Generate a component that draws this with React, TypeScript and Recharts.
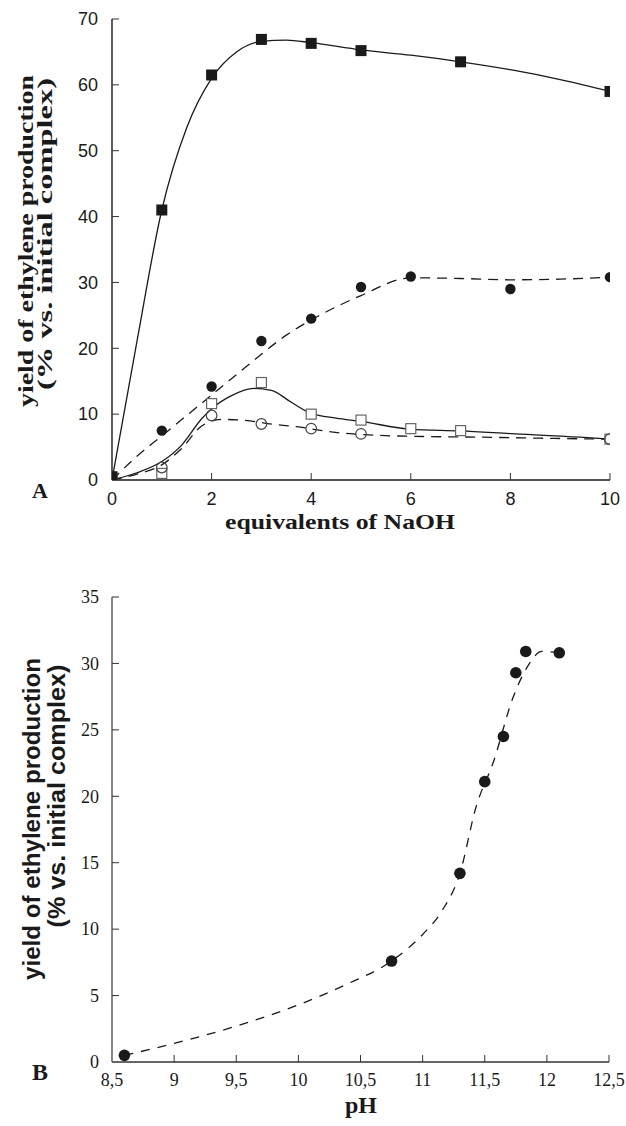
import React from "react"
import { ComposedChart, Line, Scatter, XAxis, YAxis } from "recharts"

// ---- panel A: yield vs equivalents of NaOH ----
const naohTicks = [0, 2, 4, 6, 8, 10]
const yieldTicksA = [0, 10, 20, 30, 40, 50, 60, 70]

const filledSquares = [
  { x: 0, y: 0.5 }, { x: 1, y: 41 }, { x: 2, y: 61.5 }, { x: 3, y: 66.9 },
  { x: 4, y: 66.3 }, { x: 5, y: 65.2 }, { x: 7, y: 63.5 }, { x: 10, y: 59 },
]
const filledCircles = [
  { x: 0, y: 0.3 }, { x: 1, y: 7.5 }, { x: 2, y: 14.2 }, { x: 3, y: 21.1 }, { x: 4, y: 24.5 },
  { x: 5, y: 29.3 }, { x: 6, y: 30.9 }, { x: 8, y: 29 }, { x: 10, y: 30.8 },
]
const openSquares = [
  { x: 0, y: 0 }, { x: 1, y: 1 }, { x: 2, y: 11.6 }, { x: 3, y: 14.8 }, { x: 4, y: 10 },
  { x: 5, y: 9.1 }, { x: 6, y: 7.8 }, { x: 7, y: 7.5 }, { x: 10, y: 6.2 },
]
const openCircles = [
  { x: 0, y: 0 }, { x: 1, y: 1.9 }, { x: 2, y: 9.8 }, { x: 3, y: 8.5 },
  { x: 4, y: 7.8 }, { x: 5, y: 7.0 }, { x: 10, y: 6.2 },
]

// fitted curves
const fitFilledSquares = [
  { x: 0, y: 0 }, { x: 0.5, y: 21 }, { x: 1, y: 41 }, { x: 1.5, y: 53.5 }, { x: 2, y: 61 },
  { x: 2.5, y: 65 }, { x: 3, y: 66.6 }, { x: 3.5, y: 66.8 }, { x: 4, y: 66.4 }, { x: 5, y: 65.3 },
  { x: 6, y: 64.5 }, { x: 7, y: 63.5 }, { x: 8, y: 62.3 }, { x: 9, y: 60.8 }, { x: 10, y: 59 },
]
const fitFilledCircles = [
  { x: 0, y: 0 }, { x: 0.5, y: 3.6 }, { x: 1, y: 6.7 }, { x: 1.5, y: 9.8 }, { x: 2, y: 12.9 },
  { x: 2.5, y: 16 }, { x: 3, y: 19.1 }, { x: 3.5, y: 22 }, { x: 4, y: 24.3 }, { x: 5, y: 28 },
  { x: 6, y: 30.7 }, { x: 7, y: 30.6 }, { x: 8, y: 30.4 }, { x: 9, y: 30.5 }, { x: 10, y: 30.8 },
]
const fitOpenSquares = [
  { x: 0, y: 0 }, { x: 0.5, y: 1.1 }, { x: 1, y: 2.8 }, { x: 1.4, y: 5.3 }, { x: 1.8, y: 9.3 },
  { x: 2, y: 10.8 }, { x: 2.4, y: 12.8 }, { x: 2.85, y: 13.9 }, { x: 3.2, y: 13.6 }, { x: 3.6, y: 11.8 },
  { x: 4, y: 10.1 }, { x: 4.5, y: 9.4 }, { x: 5, y: 8.9 }, { x: 6, y: 7.7 }, { x: 7, y: 7.45 },
  { x: 8, y: 7.05 }, { x: 9.4, y: 6.5 }, { x: 10, y: 6.2 },
]
const fitOpenCircles = [
  { x: 0, y: 0 }, { x: 0.5, y: 0.9 }, { x: 1, y: 2.3 }, { x: 1.4, y: 4.8 }, { x: 1.8, y: 8.2 },
  { x: 2.2, y: 9.2 }, { x: 2.6, y: 9.1 }, { x: 3.3, y: 8.4 }, { x: 3.7, y: 8.1 }, { x: 4.4, y: 7.3 },
  { x: 5.3, y: 6.8 }, { x: 6.3, y: 6.6 }, { x: 7.4, y: 6.5 }, { x: 9, y: 6.3 }, { x: 10, y: 6.2 },
]

// ---- panel B: yield vs pH ----
const phTicks = [8.5, 9, 9.5, 10, 10.5, 11, 11.5, 12, 12.5]
const yieldTicksB = [0, 5, 10, 15, 20, 25, 30, 35]

const phPoints = [
  { x: 8.6, y: 0.5 }, { x: 10.75, y: 7.6 }, { x: 11.3, y: 14.2 }, { x: 11.5, y: 21.1 },
  { x: 11.65, y: 24.5 }, { x: 11.75, y: 29.3 }, { x: 11.83, y: 30.9 }, { x: 12.1, y: 30.8 },
]
const fitPh = [
  { x: 8.6, y: 0.5 }, { x: 9, y: 1.4 }, { x: 9.5, y: 2.7 }, { x: 10, y: 4.3 }, { x: 10.4, y: 5.9 },
  { x: 10.75, y: 7.6 }, { x: 11, y: 9.6 }, { x: 11.15, y: 11.3 }, { x: 11.3, y: 14.2 },
  { x: 11.43, y: 19.2 }, { x: 11.57, y: 22.6 }, { x: 11.73, y: 27.5 }, { x: 11.84, y: 29.7 },
  { x: 11.96, y: 30.9 }, { x: 12.1, y: 30.8 },
]

const SANS = "'Liberation Sans', Arial, sans-serif"
const SERIF = "'Liberation Serif', 'Times New Roman', serif"
const INK = "#1a1a1a"

const FilledSquare = (p: any) => <rect x={p.cx - 5.5} y={p.cy - 5.5} width={11} height={11} fill={INK} />
const OpenSquare = (p: any) => (
  <rect x={p.cx - 5} y={p.cy - 5} width={10} height={10} fill="#fff" stroke="#666" strokeWidth={1.2} />
)
const FilledCircle = (p: any) => <circle cx={p.cx} cy={p.cy} r={5.2} fill={INK} />
const OpenCircle = (p: any) => <circle cx={p.cx} cy={p.cy} r={5.3} fill="none" stroke="#444" strokeWidth={1.2} />
const BigDot = (p: any) => <circle cx={p.cx} cy={p.cy} r={5.8} fill={INK} />

const fmtComma = (v: number) => String(v).replace(".", ",")

// inward ticks: tickSize=0, tickMargin=0 so (x, y) is the axis position
const xTick = (min: number, font: string, size: number, dy: number, fmt: (v: number) => string) => (props: any) => {
  const { x, y, payload } = props
  return (
    <g>
      {payload.value !== min && <line x1={x} y1={y} x2={x} y2={y - 7} stroke="#333" strokeWidth={1} />}
      <text x={x} y={y + dy} textAnchor="middle" fontFamily={font} fontSize={size} fill={INK}>
        {fmt(payload.value)}
      </text>
    </g>
  )
}
const yTick = (min: number, font: string, size: number, dx: number) => (props: any) => {
  const { x, y, payload } = props
  return (
    <g>
      {payload.value !== min && <line x1={x} y1={y} x2={x + 7} y2={y} stroke="#333" strokeWidth={1} />}
      <text x={x - dx} y={y} dy="0.35em" textAnchor="end" fontFamily={font} fontSize={size} fill={INK}>
        {payload.value}
      </text>
    </g>
  )
}

const titleA = () => (
  <g fontFamily={SERIF} fontWeight="bold" fill={INK}>
    <text x={340} y={529} textAnchor="middle" fontSize={22} textLength={230} lengthAdjust="spacingAndGlyphs">
      equivalents of  NaOH
    </text>
    <text x={40} y={498} textAnchor="middle" fontSize={22}>A</text>
  </g>
)
const yTitleA = () => (
  <g fontFamily={SERIF} fontWeight="bold" fill={INK}>
    <text transform="translate(33,241) rotate(-90)" fontSize={22} textAnchor="middle" textLength={332} lengthAdjust="spacingAndGlyphs">
      yield of ethylene production
    </text>
    <text transform="translate(52,234) rotate(-90)" fontSize={20} textAnchor="middle" textLength={312} lengthAdjust="spacingAndGlyphs">
      (% vs. initial complex)
    </text>
  </g>
)

// panel B svg starts at page y = 560
const titleB = () => (
  <g fontFamily={SERIF} fontWeight="bold" fill={INK}>
    <text x={361} y={553} textAnchor="middle" fontSize={24}>pH</text>
    <text x={40} y={520} textAnchor="middle" fontSize={24}>B</text>
  </g>
)
const yTitleB = () => (
  <g fontFamily={SANS} fontWeight="bold" fill={INK} fontSize={24}>
    <text transform="translate(40,259) rotate(-90)" textAnchor="middle" textLength={322} lengthAdjust="spacingAndGlyphs">
      yield of ethylene production
    </text>
    <text transform="translate(65,236) rotate(-90)" textAnchor="middle" textLength={263} lengthAdjust="spacingAndGlyphs">
      (% vs. initial complex)
    </text>
  </g>
)

export default function App() {
  return (
    <div style={{ position: "absolute", left: 0, top: 0, width: 626, height: 1126, background: "#fff" }}>
      <div style={{ position: "absolute", left: 0, top: 0 }}>
        <ComposedChart width={626} height={545} margin={{ top: 19, right: 16, bottom: 35, left: 0 }}>
          <XAxis
            type="number"
            dataKey="x"
            domain={[0, 10]}
            ticks={naohTicks}
            interval={0}
            allowDataOverflow
            height={30}
            tickSize={0}
            tickMargin={0}
            tickLine={false}
            axisLine={{ stroke: INK, strokeWidth: 1.6 }}
            tick={xTick(0, SANS, 18, 25, (v) => String(v))}
            label={titleA}
          />
          <YAxis
            type="number"
            dataKey="y"
            domain={[0, 70]}
            ticks={yieldTicksA}
            interval={0}
            allowDataOverflow
            width={112}
            tickSize={0}
            tickMargin={0}
            tickLine={false}
            axisLine={{ stroke: INK, strokeWidth: 1.4 }}
            tick={yTick(0, SANS, 18, 14)}
            label={yTitleA}
          />
          <Line data={fitFilledSquares} dataKey="y" type="monotone" dot={false} stroke={INK} strokeWidth={1.3} isAnimationActive={false} />
          <Line data={fitFilledCircles} dataKey="y" type="monotone" dot={false} stroke={INK} strokeWidth={1.3} strokeDasharray="10 7" isAnimationActive={false} />
          <Line data={fitOpenSquares} dataKey="y" type="monotone" dot={false} stroke={INK} strokeWidth={1.3} isAnimationActive={false} />
          <Line data={fitOpenCircles} dataKey="y" type="monotone" dot={false} stroke={INK} strokeWidth={1.3} strokeDasharray="10 7" isAnimationActive={false} />
          <Scatter data={openSquares} dataKey="y" shape={OpenSquare} isAnimationActive={false} />
          <Scatter data={openCircles} dataKey="y" shape={OpenCircle} isAnimationActive={false} />
          <Scatter data={filledCircles} dataKey="y" shape={FilledCircle} isAnimationActive={false} />
          <Scatter data={filledSquares} dataKey="y" shape={FilledSquare} isAnimationActive={false} />
        </ComposedChart>
      </div>
      <div style={{ position: "absolute", left: 0, top: 560 }}>
        <ComposedChart width={626} height={566} margin={{ top: 37, right: 17, bottom: 34, left: 0 }}>
          <XAxis
            type="number"
            dataKey="x"
            domain={[8.5, 12.5]}
            ticks={phTicks}
            interval={0}
            allowDataOverflow
            height={30}
            tickSize={0}
            tickMargin={0}
            tickLine={false}
            axisLine={{ stroke: "#333", strokeWidth: 1.6 }}
            tick={xTick(8.5, SERIF, 18, 24, fmtComma)}
            label={titleB}
          />
          <YAxis
            type="number"
            dataKey="y"
            domain={[0, 35]}
            ticks={yieldTicksB}
            interval={0}
            allowDataOverflow
            width={112}
            tickSize={0}
            tickMargin={0}
            tickLine={false}
            axisLine={{ stroke: "#555", strokeWidth: 1.4 }}
            tick={yTick(0, SERIF, 18, 13)}
            label={yTitleB}
          />
          <Line data={fitPh} dataKey="y" type="monotone" dot={false} stroke={INK} strokeWidth={1.3} strokeDasharray="9 8" isAnimationActive={false} />
          <Scatter data={phPoints} dataKey="y" shape={BigDot} isAnimationActive={false} />
        </ComposedChart>
      </div>
    </div>
  )
}
